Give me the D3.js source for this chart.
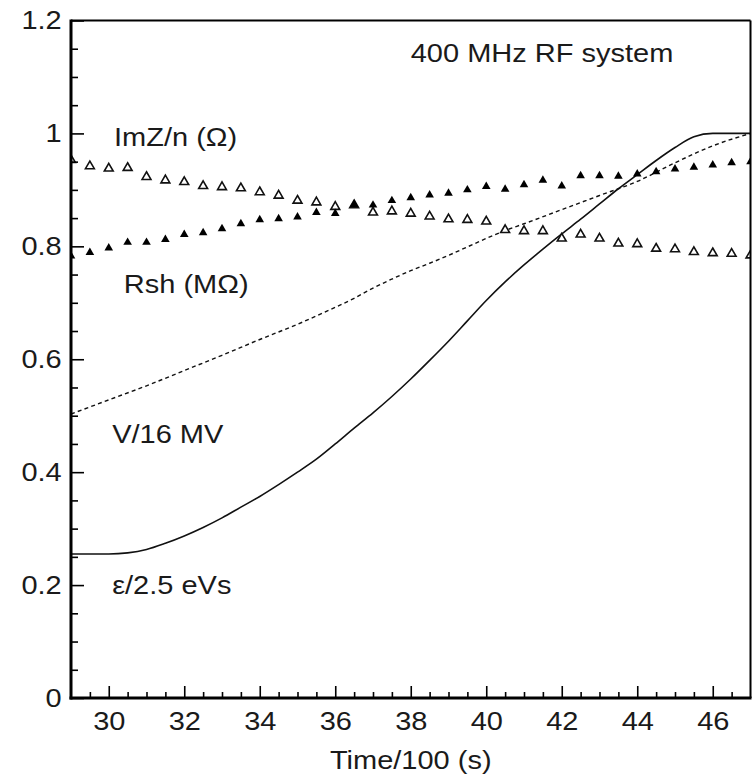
<!DOCTYPE html>
<html><head><meta charset="utf-8">
<script src="https://cdn.jsdelivr.net/npm/d3@7"></script>
<style>
body{margin:0;background:#fff}
svg{display:block}
text{font-family:"Liberation Sans",Arial,Helvetica,sans-serif;fill:#1a1a1a}
</style>
</head><body><svg id="c" width="752" height="777"></svg>
<script>
// ---- data ----
const sampleTimes = [29,29.5,30,30.5,31,31.5,32,32.5,33,33.5,34,34.5,35,35.5,36,36.5,37,37.5,38,38.5,39,39.5,40,40.5,41,41.5,42,42.5,43,43.5,44,44.5,45,45.5,46,46.5,47];
const imzValues = [0.953,0.942,0.938,0.939,0.923,0.917,0.914,0.907,0.905,0.903,0.896,0.890,0.881,0.878,0.870,0.873,0.860,0.862,0.858,0.853,0.848,0.847,0.844,0.829,0.827,0.827,0.814,0.821,0.814,0.805,0.804,0.796,0.795,0.790,0.788,0.787,0.784];
const rshValues = [0.783,0.789,0.797,0.807,0.807,0.812,0.821,0.824,0.831,0.840,0.847,0.849,0.852,0.860,0.858,0.874,0.873,0.881,0.886,0.891,0.894,0.900,0.906,0.901,0.909,0.917,0.907,0.925,0.925,0.924,0.928,0.932,0.937,0.940,0.944,0.948,0.950];
const epsTimes = [29,30,30.5,31,31.5,32,32.5,33,33.5,34,34.5,35,35.5,36,36.5,37,37.5,38,38.5,39,39.5,40,40.5,41,41.5,42,42.5,43,43.5,44,44.5,45,45.5,46,47];
const epsValues = [0.255,0.255,0.257,0.263,0.274,0.287,0.302,0.319,0.338,0.357,0.378,0.400,0.423,0.450,0.478,0.505,0.534,0.565,0.598,0.632,0.668,0.704,0.737,0.767,0.795,0.822,0.848,0.875,0.902,0.927,0.952,0.975,0.994,1.0,1.0];
const voltTimes = [29,30,31,32,33,34,35,36,36.5,37,37.5,38,38.5,39,39.5,40,40.5,41,42,43,44,45,46,47];
const voltValues = [0.503,0.528,0.553,0.580,0.607,0.635,0.662,0.692,0.708,0.726,0.742,0.757,0.770,0.784,0.799,0.814,0.828,0.840,0.865,0.890,0.915,0.948,0.978,1.0];
const xTickValues = [30,32,34,36,38,40,42,44,46];
const xTickLabels = ["30","32","34","36","38","40","42","44","46"];
const yTickValues = [0,0.2,0.4,0.6,0.8,1,1.2];
const yTickLabels = ["0","0.2","0.4","0.6","0.8","1","1.2"];
const titleText = "400 MHz RF system";
const xAxisTitle = "Time/100 (s)";
const seriesNames = ["ImZ/n (Ω)","Rsh (MΩ)","V/16 MV","ε/2.5 eVs"];

// ---- layout ----
const svg = d3.select("#c");
const L = 71, R = 750.5, T = 20.5, B = 698;
const x = d3.scaleLinear().domain([29,47]).range([L,R]);
const y = d3.scaleLinear().domain([0,1.2]).range([B,T]);
const FS = 25, SX = 1.16;

svg.append("rect").attr("width",752).attr("height",777).attr("fill","#fff");
svg.append("clipPath").attr("id","plot").append("rect")
  .attr("x",L).attr("y",T).attr("width",R-L).attr("height",B-T);

const plot = svg.append("g").attr("clip-path","url(#plot)");

// lines
const line = d3.line().x(d=>x(d[0])).y(d=>y(d[1])).curve(d3.curveMonotoneX);
plot.append("path").datum(voltTimes.map((t,i)=>[t,voltValues[i]]))
  .attr("d",line).attr("fill","none").attr("stroke","#111")
  .attr("stroke-width",1.4).attr("stroke-dasharray","4,3.2");
plot.append("path").datum(epsTimes.map((t,i)=>[t,epsValues[i]]))
  .attr("d",line).attr("fill","none").attr("stroke","#111").attr("stroke-width",1.6);

// triangles
const triFilled = d3.symbol().type(d3.symbolTriangle).size(32);
const triOpen = d3.symbol().type(d3.symbolTriangle).size(34);
plot.selectAll(".op").data(sampleTimes.map((t,i)=>[t,imzValues[i]])).join("path")
  .attr("transform",d=>`translate(${x(d[0])},${y(d[1])})`)
  .attr("d",triOpen()).attr("fill","#fff").attr("stroke","#111").attr("stroke-width",1.6);
plot.selectAll(".fl").data(sampleTimes.map((t,i)=>[t,rshValues[i]])).join("path")
  .attr("transform",d=>`translate(${x(d[0])},${y(d[1])})`)
  .attr("d",triFilled()).attr("fill","#000");

// axes ticks
const xMinor = d3.range(29.5,47,0.5).filter(v=>!xTickValues.includes(v));
const yMinor = d3.range(0.05,1.2,0.05).map(v=>+v.toFixed(2)).filter(v=>!yTickValues.some(t=>Math.abs(t-v)<1e-6));

const gx = svg.append("g").attr("transform",`translate(0,${B})`)
  .call(d3.axisBottom(x).tickValues(xTickValues).tickSize(-12).tickPadding(14)
    .tickFormat((d,i)=>xTickLabels[i]));
const gxm = svg.append("g").attr("transform",`translate(0,${B})`)
  .call(d3.axisBottom(x).tickValues(xMinor).tickSize(-6).tickFormat(""));
const gy = svg.append("g").attr("transform",`translate(${L},0)`)
  .call(d3.axisLeft(y).tickValues(yTickValues).tickSize(-13).tickPadding(8)
    .tickFormat((d,i)=>yTickLabels[i]));
const gym = svg.append("g").attr("transform",`translate(${L},0)`)
  .call(d3.axisLeft(y).tickValues(yMinor).tickSize(-7).tickFormat(""));
[gx,gxm,gy,gym].forEach(g=>{
  g.select(".domain").remove();
  g.selectAll("line").attr("stroke","#000").attr("stroke-width",1.6);
  g.selectAll("text").attr("font-size",FS).attr("fill","#1a1a1a")
    .attr("transform",`scale(${SX},1)`);
});

// frame
svg.append("line").attr("x1",L).attr("x2",R).attr("y1",T).attr("y2",T).attr("stroke","#000").attr("stroke-width",2);
svg.append("line").attr("x1",R).attr("x2",R).attr("y1",T).attr("y2",B).attr("stroke","#000").attr("stroke-width",2);
svg.append("line").attr("x1",L).attr("x2",L).attr("y1",T-1).attr("y2",B+1.5).attr("stroke","#000").attr("stroke-width",3);
svg.append("line").attr("x1",L-1.5).attr("x2",R+1).attr("y1",B).attr("y2",B).attr("stroke","#000").attr("stroke-width",3);

// annotations
function label(txt, px, py, anchor){
  svg.append("text").attr("transform",`translate(${px},${py}) scale(${SX},1)`)
    .attr("text-anchor",anchor||"start").attr("font-size",FS).text(txt);
}
label(titleText, x(38.0), y(1.126));
label(seriesNames[0], x(30.14), y(0.977));
label(seriesNames[1], x(30.40), y(0.717));
label(seriesNames[2], x(30.09), y(0.451));
label(seriesNames[3], x(30.09), y(0.185));
label(xAxisTitle, (L+R)/2, 769, "middle");
</script>
</body></html>
